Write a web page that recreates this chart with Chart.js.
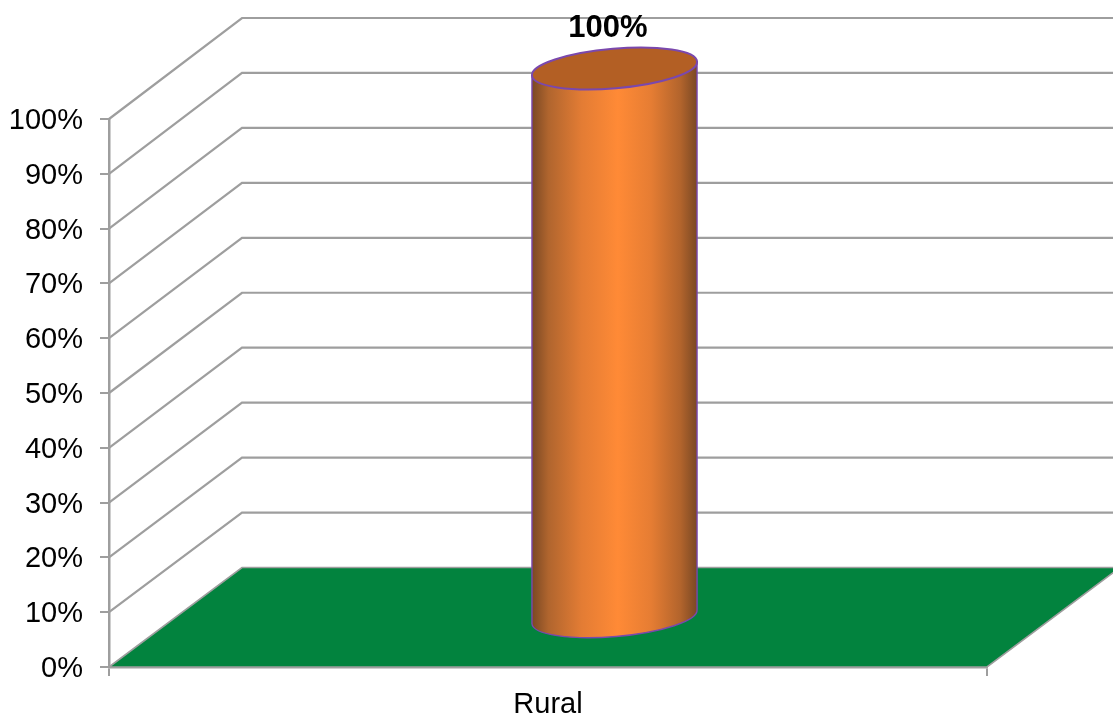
<!DOCTYPE html>
<html>
<head>
<meta charset="utf-8">
<title>Rural</title>
<style>
	html, body { margin: 0; padding: 0; background: #fff; overflow: hidden; }
	canvas { display: block; }
</style>
<script src="https://cdn.jsdelivr.net/npm/chart.js@4/dist/chart.umd.min.js"></script>
</head>
<body>
<canvas id="barChart" width="1113" height="717"></canvas>
<script>
var categories = ['Rural'];
var values     = [100];
var tickLabels = ['0%', '10%', '20%', '30%', '40%', '50%', '60%', '70%', '80%', '90%', '100%'];

var FONT       = '"Liberation Sans", Arial, sans-serif';
var LINE_COLOR = '#9e9e9e';
var FLOOR      = '#02833e';

// how far the back wall sits from the front plane
var DEPTH_X      = 133;
var DEPTH_Y_BASE = -99.5;
var DEPTH_Y_TOP  = -101;

function backY(scale, value){
	var t = (value - scale.min) / (scale.max - scale.min);
	return scale.getPixelForValue(value) + DEPTH_Y_BASE + (DEPTH_Y_TOP - DEPTH_Y_BASE) * t;
}

// floor and back wall gridlines
var wallPlugin = {
	id: 'wall',
	beforeDatasetsDraw: function(chart){
		var ctx  = chart.ctx;
		var area = chart.chartArea;
		var y    = chart.scales.y;

		ctx.save();
		ctx.strokeStyle = LINE_COLOR;
		ctx.lineWidth = 2.2;
		y.ticks.forEach(function(tick){
			if(tick.value === y.min) return;
			var py = y.getPixelForValue(tick.value);
			ctx.beginPath();
			ctx.moveTo(area.left, py);
			ctx.lineTo(area.left + DEPTH_X, backY(y, tick.value));
			ctx.lineTo(area.right + DEPTH_X, backY(y, tick.value));
			ctx.stroke();
		});

		var base = y.getPixelForValue(y.min);
		var back = backY(y, y.min);
		ctx.beginPath();
		ctx.moveTo(area.left, base);
		ctx.lineTo(area.left + DEPTH_X, back);
		ctx.lineTo(area.right + DEPTH_X, back);
		ctx.lineTo(area.right, base);
		ctx.closePath();
		ctx.fillStyle = FLOOR;
		ctx.fill();
		ctx.lineWidth = 1.6;
		ctx.stroke();
		ctx.restore();
	}
};

// the bar is drawn as a cylinder standing halfway into the floor
var cylinderPlugin = {
	id: 'cylinder',
	afterDatasetsDraw: function(chart){
		var ctx = chart.ctx;
		var y   = chart.scales.y;

		chart.getDatasetMeta(0).data.forEach(function(bar, i){
			var half = bar.width / 2;
			var cx   = bar.x + DEPTH_X / 2;
			var top  = (bar.y + backY(y, values[i])) / 2;
			var base = (bar.base + backY(y, 0)) / 2;
			var tilt = -4.85 * Math.PI / 180;
			var rx   = half * 1.004;
			var ry   = 19.8;
			var lift = half * Math.tan(tilt);

			var body = ctx.createLinearGradient(cx - half, 0, cx + half, 0);
			body.addColorStop(0, '#7a4824');
			body.addColorStop(0.1, '#b0652e');
			body.addColorStop(0.3, '#e37c34');
			body.addColorStop(0.52, '#ff8a36');
			body.addColorStop(0.72, '#e67d33');
			body.addColorStop(0.9, '#b2642c');
			body.addColorStop(1, '#7a4824');

			ctx.save();
			ctx.beginPath();
			ctx.moveTo(cx - half, top - lift);
			ctx.lineTo(cx - half, base - lift);
			ctx.ellipse(cx, base, rx, ry, tilt, Math.PI, 0, true);
			ctx.lineTo(cx + half, top + lift);
			ctx.closePath();
			ctx.fillStyle = body;
			ctx.fill();
			ctx.strokeStyle = '#7a48ad';
			ctx.lineWidth = 1.4;
			ctx.stroke();

			ctx.beginPath();
			ctx.ellipse(cx, top, rx, ry, tilt, 0, Math.PI * 2);
			ctx.fillStyle = '#b35f24';
			ctx.fill();
			ctx.lineWidth = 2;
			ctx.stroke();

			ctx.fillStyle = '#000';
			ctx.font = 'bold 31px ' + FONT;
			ctx.textAlign = 'center';
			ctx.textBaseline = 'alphabetic';
			ctx.fillText(values[i] + '%', cx - 6.5, 37);
			ctx.restore();
		});
	}
};

var barChartCanvas = document.getElementById('barChart').getContext('2d');

var barChart = new Chart(barChartCanvas, {
	type: 'bar',
	data: {
		labels: categories,
		datasets: [{
			data: values,
			backgroundColor: 'rgba(0,0,0,0)',
			borderWidth: 0,
			categoryPercentage: 1,
			barPercentage: 0.188
		}]
	},
	options: {
		responsive: false,
		animation: false,
		layout: { padding: { top: 119, right: 126, bottom: 0, left: 0 } },
		plugins: { legend: { display: false }, tooltip: { enabled: false } },
		scales: {
			x: {
				grid: { drawOnChartArea: false, color: LINE_COLOR, tickLength: 9, lineWidth: 2 },
				border: { color: LINE_COLOR, width: 2.5 },
				ticks: { color: '#000', font: { family: FONT, size: 29 }, padding: 12 },
				afterFit: function(scale){ scale.height = 50; }
			},
			y: {
				min: 0,
				max: 100,
				grid: { drawOnChartArea: false, color: LINE_COLOR, tickLength: 9, lineWidth: 2 },
				border: { color: LINE_COLOR, width: 2.5 },
				ticks: {
					stepSize: 10,
					color: '#000',
					font: { family: FONT, size: 29 },
					padding: 17,
					labelOffset: 2,
					callback: function(value, index){ return tickLabels[index]; }
				},
				afterFit: function(scale){ scale.width = 109; }
			}
		}
	},
	plugins: [wallPlugin, cylinderPlugin]
});
</script>
</body>
</html>
